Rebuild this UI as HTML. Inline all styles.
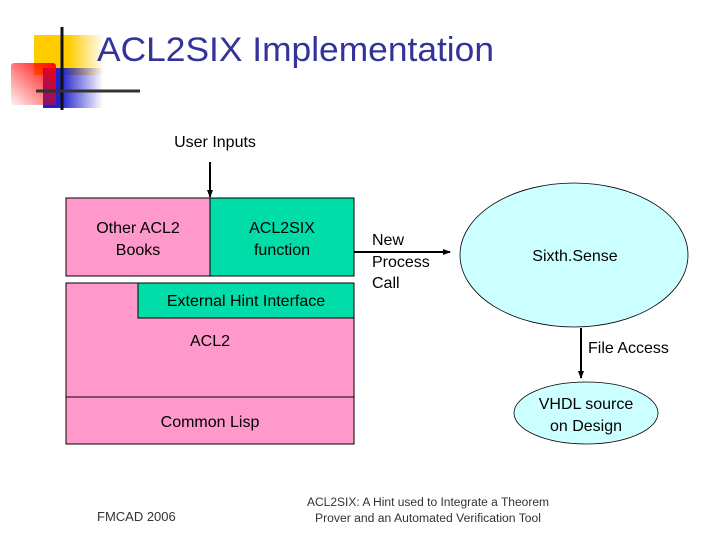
<!DOCTYPE html>
<html><head><style>
body{margin:0;width:720px;height:540px;background:#fff;position:relative;overflow:hidden;font-family:"Liberation Sans",sans-serif}
</style></head><body>
<svg width="720" height="540" style="position:absolute;left:0;top:0" font-family="Liberation Sans, sans-serif">
<defs>
<linearGradient id="gy" x1="0" x2="1"><stop offset="0.5" stop-color="#FFCC00"/><stop offset="1" stop-color="#FFCC00" stop-opacity="0"/></linearGradient>
<linearGradient id="gb" x1="0" x2="1"><stop offset="0.3" stop-color="#2222CC"/><stop offset="1" stop-color="#2222CC" stop-opacity="0"/></linearGradient>
<linearGradient id="gr" x1="1" y1="0" x2="0" y2="1"><stop offset="0" stop-color="#FF0000"/><stop offset="1" stop-color="#FF0000" stop-opacity="0.05"/></linearGradient>
<marker id="ah" markerWidth="8" markerHeight="8" refX="7" refY="4" orient="auto" markerUnits="userSpaceOnUse"><path d="M0,1 L8,4 L0,7z" fill="#000"/></marker>
</defs>
<rect x="34" y="35" width="70" height="40" fill="url(#gy)"/>
<rect x="43" y="68" width="60" height="40" fill="url(#gb)"/>
<rect x="11" y="63" width="45" height="42" rx="3" fill="url(#gr)"/>
<line x1="62" y1="27" x2="62" y2="110" stroke="#111" stroke-width="3"/>
<line x1="36" y1="91" x2="140" y2="91" stroke="#333" stroke-width="3"/>
<text x="97" y="61" font-size="34" fill="#333399" textLength="397" lengthAdjust="spacingAndGlyphs">ACL2SIX Implementation</text>
<text x="215" y="147" font-size="16" text-anchor="middle">User Inputs</text>
<line x1="210" y1="162" x2="210" y2="197" stroke="#000" stroke-width="2" marker-end="url(#ah)"/>
<rect x="66" y="198" width="144" height="78" fill="#FF99CC" stroke="#000"/>
<rect x="210" y="198" width="144" height="78" fill="#00DDA8" stroke="#000"/>
<rect x="66" y="283" width="288" height="161" fill="#FF99CC" stroke="#000"/>
<rect x="138" y="283" width="216" height="35" fill="#00DDA8" stroke="#000"/>
<line x1="66" y1="397" x2="354" y2="397" stroke="#000"/>
<text x="138" y="233" font-size="16" text-anchor="middle">Other ACL2</text>
<text x="138" y="255" font-size="16" text-anchor="middle">Books</text>
<text x="282" y="233" font-size="16" text-anchor="middle">ACL2SIX</text>
<text x="282" y="255" font-size="16" text-anchor="middle">function</text>
<text x="246" y="306" font-size="16" text-anchor="middle">External Hint Interface</text>
<text x="210" y="346" font-size="16" text-anchor="middle">ACL2</text>
<text x="210" y="427" font-size="16" text-anchor="middle">Common Lisp</text>
<line x1="354" y1="252" x2="450" y2="252" stroke="#000" stroke-width="2" marker-end="url(#ah)"/>
<text x="372" y="245" font-size="16">New</text>
<text x="372" y="267" font-size="16">Process</text>
<text x="372" y="288" font-size="16">Call</text>
<ellipse cx="574" cy="255" rx="114" ry="72" fill="#CCFFFF" stroke="#000" stroke-width="0.8"/>
<text x="575" y="261" font-size="16" text-anchor="middle">Sixth.Sense</text>
<line x1="581" y1="328" x2="581" y2="378" stroke="#000" stroke-width="2" marker-end="url(#ah)"/>
<text x="588" y="353" font-size="16">File Access</text>
<ellipse cx="586" cy="413" rx="72" ry="31" fill="#CCFFFF" stroke="#000" stroke-width="0.8"/>
<text x="586" y="409" font-size="16" text-anchor="middle">VHDL source</text>
<text x="586" y="431" font-size="16" text-anchor="middle">on Design</text>
<text x="97" y="521" font-size="13" fill="#333">FMCAD 2006</text>
<text x="307" y="506" font-size="11.5" fill="#333" textLength="242" lengthAdjust="spacingAndGlyphs">ACL2SIX: A Hint used to Integrate a Theorem</text>
<text x="315" y="522" font-size="11.5" fill="#333" textLength="226" lengthAdjust="spacingAndGlyphs">Prover and an Automated Verification Tool</text>
</svg>
</body></html>
